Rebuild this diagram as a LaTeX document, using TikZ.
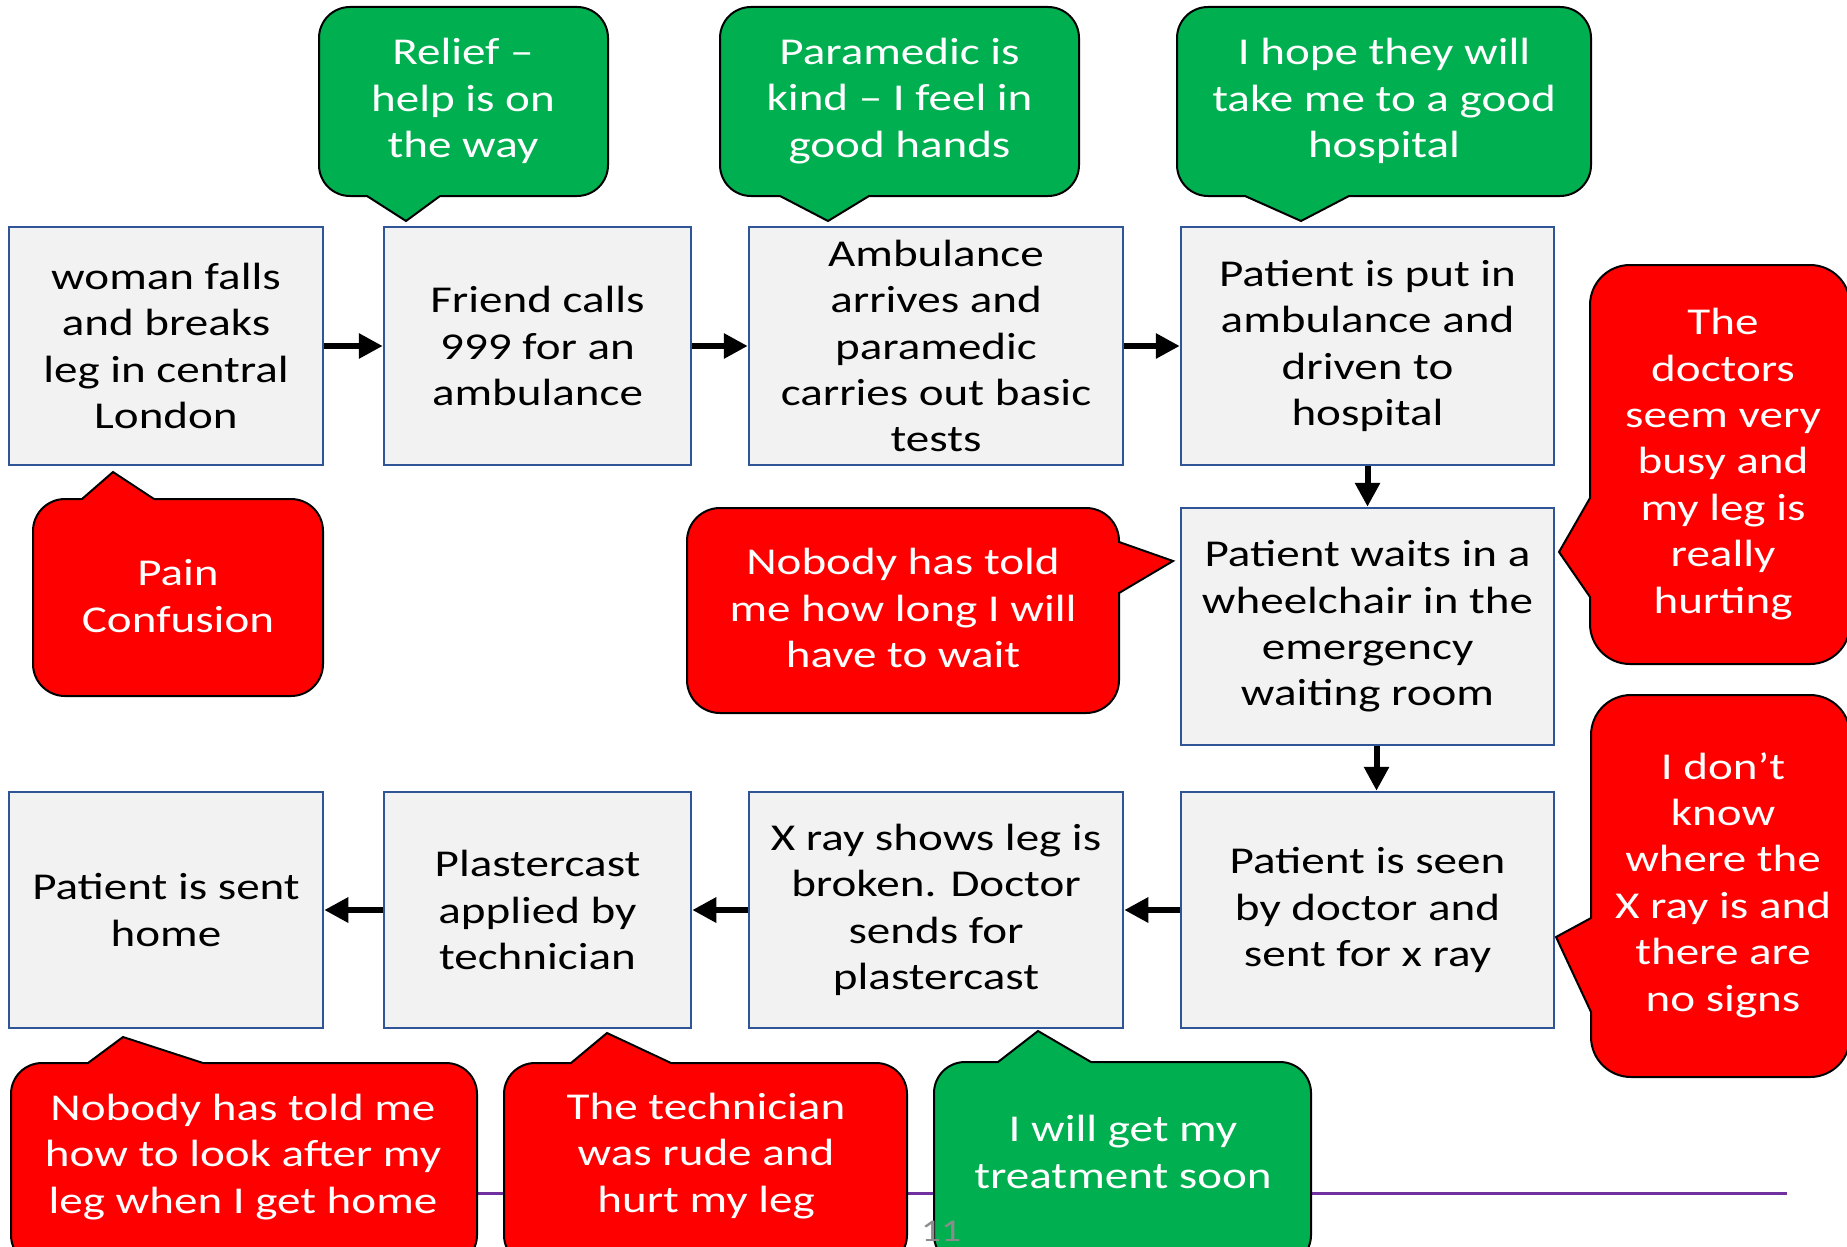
\documentclass[tikz,border=0pt]{standalone}
\usepackage{fontspec}
\setmainfont{Carlito}[FakeStretch=1.24]
\usetikzlibrary{arrows.meta}

\definecolor{boxfill}{HTML}{F2F2F2}
\definecolor{boxline}{HTML}{2F5597}
\definecolor{goodgreen}{HTML}{00B050}
\definecolor{badred}{HTML}{FF0000}
\definecolor{rulepurple}{HTML}{7030A0}
\definecolor{pagegray}{HTML}{8C8C8C}

\newcommand{\bodyfont}{\fontsize{10.8pt}{13.2pt}\selectfont}
\newcommand{\crad}{31}
% Rounded speech bubble: #1 style, #2 left, #3 top, #4 right, #5 bottom,
% #6..#9 extra path pieces on the top, right, bottom and left sides
\newcommand{\bubble}[9]{%
  \path[#1] (#2+\crad,#3) #6 -- (#4-\crad,#3)
    arc[start angle=90,end angle=0,radius=\crad*0.1mm] #7 -- (#4,#5-\crad)
    arc[start angle=0,end angle=-90,radius=\crad*0.1mm] #8 -- (#2+\crad,#5)
    arc[start angle=-90,end angle=-180,radius=\crad*0.1mm] #9 -- (#2,#3+\crad)
    arc[start angle=180,end angle=90,radius=\crad*0.1mm] -- cycle;}

\begin{document}
\begin{tikzpicture}[x=0.1mm,y=-0.1mm,
  stepbox/.style={draw=boxline, line width=0.25mm, fill=boxfill, align=center,
    inner sep=0pt, font=\bodyfont},
  flowarrow/.style={line width=0.6mm, -{Triangle[length=2.4mm,width=2.4mm]}},
  goodbubble/.style={fill=goodgreen, draw=black, line width=0.2mm},
  badbubble/.style={fill=badred, draw=black, line width=0.2mm},
  bubbletext/.style={text=white, align=center, inner sep=0pt, font=\bodyfont}]

\useasboundingbox (0,0) rectangle (1847,1246);
\clip (0,0) rectangle (1847,1246);
\fill[white] (0,0) rectangle (1847,1246);

% footer rule
\coordinate (rule-l) at (60,1193);
\coordinate (rule-r) at (1787,1193);
\draw[rulepurple, line width=0.3mm] (rule-l) -- (rule-r);

% process steps
\node[stepbox, minimum width=31.4mm, minimum height=23.8mm] (fall) at (166,346)
  {woman falls\\and breaks\\leg in central\\London};
\node[stepbox, minimum width=30.7mm, minimum height=23.8mm] (call) at (537.5,346)
  {Friend calls\\999 for an\\ambulance};
\node[stepbox, minimum width=37.4mm, minimum height=23.8mm] (arrive) at (936,346)
  {Ambulance\\arrives and\\paramedic\\carries out basic\\tests};
\node[stepbox, minimum width=37.3mm, minimum height=23.8mm] (drive) at (1367.5,346)
  {Patient is put in\\ambulance and\\driven to\\hospital};
\node[stepbox, minimum width=37.3mm, minimum height=23.7mm] (wait) at (1367.5,626.5)
  {Patient waits in a\\wheelchair in the\\emergency\\waiting room};
\node[stepbox, minimum width=37.3mm, minimum height=23.6mm] (seen) at (1367.5,910)
  {Patient is seen\\by doctor and\\sent for x ray};
\node[stepbox, minimum width=37.4mm, minimum height=23.6mm] (xray) at (936,910)
  {X ray shows leg is\\broken. Doctor\\sends for\\plastercast};
\node[stepbox, minimum width=30.7mm, minimum height=23.6mm] (cast) at (537.5,910)
  {Plastercast\\applied by\\technician};
\node[stepbox, minimum width=31.4mm, minimum height=23.6mm] (home) at (166,910)
  {Patient is sent\\home};

% flow
\draw[flowarrow] (fall.east) -- (call.west);
\draw[flowarrow] (call.east) -- (arrive.west);
\draw[flowarrow] (arrive.east) -- (drive.west);
\draw[flowarrow] (drive.south) -- (wait.north);
\draw[flowarrow] ([xshift=0.9mm]wait.south) -- ([xshift=0.9mm]seen.north);
\draw[flowarrow] (seen.west) -- (xray.east);
\draw[flowarrow] (xray.west) -- (cast.east);
\draw[flowarrow] (cast.west) -- (home.east);

% feelings
\bubble{goodbubble}{319}{7}{608}{196}{}{}{-- (440,196) -- (406,221) -- (367,196)}{}
\node[bubbletext] (relief) at (463,101) {Relief –\\help is on\\the way};

\bubble{goodbubble}{720}{7}{1079}{196}{}{}{-- (869,196) -- (828,221) -- (780,196)}{}
\node[bubbletext] (kind) at (899.5,101) {Paramedic is\\kind – I feel in\\good hands};

\bubble{goodbubble}{1177}{7}{1591}{196}{}{}{-- (1349,196) -- (1301,221) -- (1245,196)}{}
\node[bubbletext] (hope) at (1384,101) {I hope they will\\take me to a good\\hospital};

\renewcommand{\crad}{32}
\bubble{badbubble}{33}{499}{323}{696}{-- (82,499) -- (113,472) -- (154,499)}{}{}{}
\node[bubbletext] (pain) at (178,596) {Pain\\Confusion};

\renewcommand{\crad}{33}
\bubble{badbubble}{687}{508}{1119}{713}{}{-- (1119,542) -- (1173,561) -- (1119,593)}{}{}
\node[bubbletext] (howlong) at (903,608) {Nobody has told\\me how long I will\\have to wait};

\renewcommand{\crad}{40}
\bubble{badbubble}{1590}{265}{1850}{664}{}{}{}{-- (1590,597) -- (1559,552) -- (1590,498)}
\node[bubbletext] (busy) at (1723,464) {The\\doctors\\seem very\\busy and\\my leg is\\really\\hurting};

\bubble{badbubble}{1591}{695}{1850}{1077}{}{}{}{-- (1591,1012) -- (1556,937) -- (1591,918)}
\node[bubbletext] (signs) at (1723,885) {I don’t\\know\\where the\\X ray is and\\there are\\no signs};

\renewcommand{\crad}{31}
\bubble{badbubble}{11}{1063}{477}{1266}{-- (88,1063) -- (123,1037) -- (203,1063)}{}{}{}
\node[bubbletext] (aftercare) at (243,1157) {Nobody has told me\\how to look after my\\leg when I get home};

\bubble{badbubble}{504}{1063}{907}{1266}{-- (571,1063) -- (607,1033) -- (671,1063)}{}{}{}
\node[bubbletext] (rude) at (706,1156) {The technician\\was rude and\\hurt my leg};

\bubble{goodbubble}{934}{1062}{1311}{1266}{-- (998,1062) -- (1038,1031) -- (1091,1062)}{}{}{}
\node[bubbletext] (soon) at (1123,1152) {I will get my\\treatment soon};

% slide number
\node[text=pagegray, inner sep=0pt, font=\fontsize{9pt}{11pt}\selectfont] (pageno) at (941,1231) {11};

\end{tikzpicture}
\end{document}
